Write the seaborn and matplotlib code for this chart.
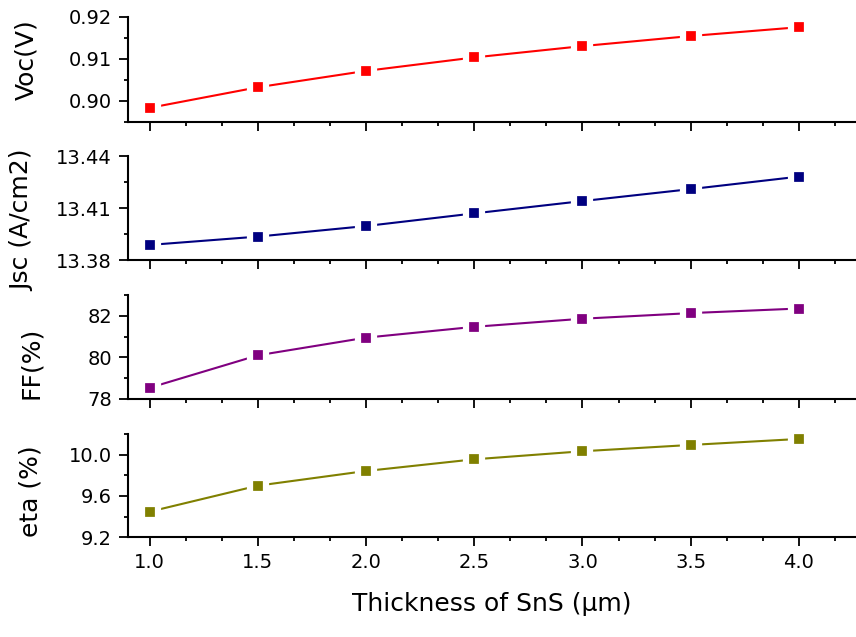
import matplotlib
matplotlib.use("Agg")
import matplotlib.pyplot as plt
import numpy as np
import pandas as pd
import seaborn as sns
from matplotlib.ticker import MultipleLocator, FormatStrFormatter

# ---- data ----
thickness = [1.0, 1.5, 2.0, 2.5, 3.0, 3.5, 4.0]
voc = [0.8983, 0.9032, 0.9071, 0.9103, 0.9130, 0.9154, 0.9175]
jsc = [13.3887, 13.3935, 13.3996, 13.4069, 13.4140, 13.4209, 13.4281]
ff = [78.54, 80.10, 80.95, 81.47, 81.86, 82.13, 82.35]
eta = [9.448, 9.700, 9.842, 9.955, 10.033, 10.094, 10.152]
ylabels = ["Voc(V)", "Jsc (A/cm2)", "FF(%)", "eta (%)"]
xlabel = "Thickness of SnS (\u03bcm)"

series = [voc, jsc, ff, eta]
colors = ["#FF0000", "#000080", "#800080", "#808000"]
ylims = [(0.895, 0.92), (13.38, 13.44), (78, 83), (9.2, 10.2)]
ymajor = [0.01, 0.03, 2, 0.4]
yfmt = ["%.2f", "%.2f", "%d", "%.1f"]

sns.set_style("ticks")
plt.rcParams["font.family"] = ["DejaVu Sans"]
plt.rcParams["text.color"] = "black"
plt.rcParams["axes.labelcolor"] = "black"
plt.rcParams["xtick.color"] = "black"
plt.rcParams["ytick.color"] = "black"

W, H = 856, 637
fig = plt.figure(figsize=(W / 100, H / 100), dpi=100)

# panel extents in pixels (top, bottom)
panels = [(16.7, 121.7), (156, 260), (295, 399), (434, 537.3)]
left_px, right_px = 128, 856
label_pos = [(26, 60), (22, 220), (31, 363), (31, 491)]

for i, (top, bot) in enumerate(panels):
    ax = fig.add_axes([left_px / W, 1 - bot / H, (right_px - left_px) / W, (bot - top) / H])
    df = pd.DataFrame({"x": thickness, "y": series[i]})
    sns.lineplot(data=df, x="x", y="y", ax=ax, color=colors[i], linewidth=1.5,
                 marker="s", markersize=12, markerfacecolor=colors[i],
                 markeredgecolor="white", markeredgewidth=4.5, clip_on=False)
    ax.set_xlim(0.9, 4.264)
    ax.set_ylim(*ylims[i])
    ax.xaxis.set_major_locator(MultipleLocator(0.5))
    ax.xaxis.set_minor_locator(MultipleLocator(0.5 / 3))
    ax.yaxis.set_major_locator(MultipleLocator(ymajor[i]))
    ax.yaxis.set_minor_locator(MultipleLocator(ymajor[i] / 2))
    ax.yaxis.set_major_formatter(FormatStrFormatter(yfmt[i]))
    ax.xaxis.set_major_formatter(FormatStrFormatter("%.1f"))
    for s in ["top", "right"]:
        ax.spines[s].set_visible(False)
    for s in ["left", "bottom"]:
        ax.spines[s].set_linewidth(1.5)
        ax.spines[s].set_color("black")
    ax.tick_params(which="major", direction="out", length=6.5, width=1.3, labelsize=14, pad=5, colors="black")
    ax.tick_params(which="minor", direction="out", length=3, width=1.3, colors="black")
    ax.set_xlabel("")
    ax.set_ylabel("")
    if i < 3:
        ax.tick_params(axis="x", which="both", labelbottom=False)
    else:
        ax.set_xlabel(xlabel, fontsize=18, labelpad=14, color="black")
    fig.text(label_pos[i][0] / W, 1 - label_pos[i][1] / H, ylabels[i], rotation=90,
             ha="center", va="center", fontsize=18, color="black")

fig.savefig("out.png", dpi=100)
